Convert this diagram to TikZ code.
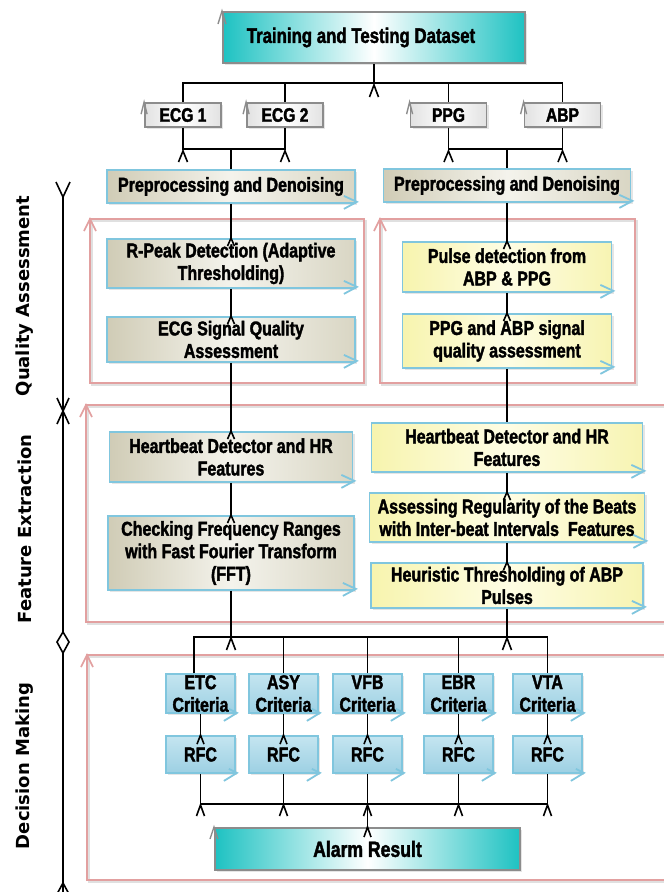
\documentclass[tikz,border=0pt]{standalone}
\usepackage{fontspec}
\newfontfamily\boxfont{Liberation Sans}[FakeStretch=0.8,FakeBold=1.8]
\newfontfamily\labfont{DejaVu Sans}
\usetikzlibrary{calc,shadows}
\definecolor{tealc}{HTML}{1EC2C2}
\definecolor{greyb}{HTML}{8C8C8C}
\definecolor{bborder}{HTML}{80C6DE}
\definecolor{beigeL}{HTML}{D0CCB6}
\definecolor{beigeM}{HTML}{F4F3EC}
\definecolor{beigeR}{HTML}{D9D6C4}
\definecolor{yelL}{HTML}{F7F4AE}
\definecolor{yelM}{HTML}{FEFDE4}
\definecolor{yelR}{HTML}{F7F4B2}
\definecolor{critT}{HTML}{C4E5F0}
\definecolor{critB}{HTML}{9DD0E3}
\definecolor{framered}{HTML}{E2A0A0}
\definecolor{greyL}{HTML}{E2E2E2}
\newcommand\chv[4]{\draw[#1] ($(#2)+(-#3,#4)$) -- (#2) -- ($(#2)+(#3,#4)$);}
\newcommand\bmk[1]{\draw[bmark] ($(#1.south east)+(-12,-8)$) -- ($(#1.south east)+(1,-2)$) -- ($(#1.south east)+(-12,5)$);}
\newcommand\bmks[1]{\draw[bmark] ($(#1.south east)+(-7,-5)$) -- ($(#1.south east)+(1,-1)$) -- ($(#1.south east)+(-12,7)$);}
\begin{document}
\begin{tikzpicture}[x=1pt,y=-1pt,
  conn/.style={line width=1.6pt,draw=black},
  bmark/.style={line width=1.8pt,draw=bborder},
  redc/.style={line width=1.6pt,draw=framered},
  greyc/.style={line width=1.4pt,draw=greyb},
  frame/.style={line width=2pt,draw=framered},
  fshadow/.style={line width=2pt,draw=black!12},
  mybox/.style={rectangle,inner sep=0pt,align=center,line width=1.8pt,draw=bborder,
    font=\boxfont\bfseries\fontsize{20pt}{22.5pt}\selectfont,
    drop shadow={shadow xshift=2pt,shadow yshift=-2pt,opacity=0.2}},
  beigebox/.style={mybox,left color=beigeL,right color=beigeR,middle color=beigeM},
  yelbox/.style={mybox,left color=yelL,right color=yelR,middle color=yelM},
  critbox/.style={mybox,top color=critT,bottom color=critB,minimum width=69pt},
  tealbox/.style={mybox,draw=greyb,line width=2pt,left color=tealc,right color=tealc,middle color=white},
  greybox/.style={mybox,draw=greyb,left color=greyL,right color=greyL,middle color=white,
    minimum width=76pt,minimum height=24pt,font=\boxfont\bfseries\fontsize{19.5pt}{21pt}\selectfont},
  lab/.style={rotate=90,font=\labfont\bfseries\fontsize{18pt}{20pt}\selectfont,inner sep=0pt}
]
\path[use as bounding box] (0,0) rectangle (664,892);
\clip (0,0) rectangle (664,892);
\fill[white] (0,0) rectangle (664,892);

% red frames
\draw[fshadow] (92,221) rectangle (366,385);
\draw[frame] (90,219) rectangle (364,383);
\draw[fshadow] (382,221) rectangle (637,385);
\draw[frame] (380,219) rectangle (635,383);
\draw[fshadow] (88,407) rectangle (702,624);
\draw[frame] (86,405) rectangle (700,622);
\draw[fshadow] (89,657) rectangle (702,882);
\draw[frame] (87,655) rectangle (700,880);
\coordinate (fqa1) at (90,219);
\coordinate (fqa2) at (380,219);
\coordinate (ffe) at (86,405);
\coordinate (fdm) at (87,655);
\chv{redc}{fqa1}{6}{12}
\chv{redc}{fqa2}{6}{12}
\chv{redc}{ffe}{6}{12}
\chv{redc}{fdm}{6}{12}

% side labels and spine
\node[lab] (qa) at (25,296) {Quality Assessment};
\node[lab] (fe) at (25,529) {Feature Extraction};
\node[lab] (dm) at (25,766) {Decision Making};
\coordinate (spTop) at (63,197);
\coordinate (spBot) at (63,892);
\draw[conn] (spTop) -- (spBot);
\draw[conn] (56,182) -- (spTop) -- (70,182);
\draw[conn] (57,398) -- (69,424);
\draw[conn] (69,398) -- (57,424);
\draw[conn,fill=white] (63,632) -- (69,642) -- (63,653) -- (57,642) -- cycle;
\coordinate (spEnd) at (63,883);
\chv{conn}{spEnd}{6}{11}

% nodes
\node[tealbox,minimum width=302pt,minimum height=51pt,font=\boxfont\bfseries\fontsize{21pt}{22pt}\selectfont] (title) at (374,37.5) {\hspace*{-26pt}\raisebox{-3pt}{Training and Testing Dataset}};
\node[greybox] (ecg1) at (183,115) {ECG 1};
\node[greybox] (ecg2) at (285,115) {ECG 2};
\node[greybox] (ppg) at (448.5,115) {PPG};
\node[greybox] (abp) at (562.5,115) {ABP};

\node[beigebox,minimum width=248pt,minimum height=33pt] (preL) at (231,186.5) {Preprocessing and Denoising};
\node[beigebox,minimum width=247pt,minimum height=33pt] (preR) at (507,185.5) {Preprocessing and Denoising};
\node[beigebox,minimum width=248pt,minimum height=49pt] (rpeak) at (231,263.5) {R-Peak Detection (Adaptive\\Thresholding)};
\node[beigebox,minimum width=248pt,minimum height=45pt] (ecgsqa) at (231,339.5) {ECG Signal Quality\\Assessment};
\node[yelbox,minimum width=209pt,minimum height=50pt] (pulse) at (507,267) {Pulse detection from\\ABP \& PPG};
\node[yelbox,minimum width=209pt,minimum height=54pt] (ppgabp) at (507,341) {PPG and ABP signal\\quality assessment};

\node[beigebox,minimum width=243pt,minimum height=50pt] (hbl) at (231,457) {Heartbeat Detector and HR\\Features};
\node[beigebox,minimum width=246pt,minimum height=74pt] (fft) at (231,553) {Checking Frequency Ranges\\with Fast Fourier Transform\\(FFT)};
\node[yelbox,minimum width=271pt,minimum height=49pt] (hbr) at (507,447.5) {Heartbeat Detector and HR\\Features};
\node[yelbox,minimum width=275pt,minimum height=49pt] (asr) at (507,517.5) {Assessing Regularity of the Beats\\with Inter-beat Intervals\ \ Features};
\node[yelbox,minimum width=272pt,minimum height=45pt] (heu) at (507,585.5) {Heuristic Thresholding of ABP\\Pulses};

\node[critbox,minimum height=39pt] (etc) at (200.5,693.5) {ETC\\Criteria};
\node[critbox,minimum height=39pt] (asy) at (283.5,693.5) {ASY\\Criteria};
\node[critbox,minimum height=39pt] (vfb) at (367.5,693.5) {VFB\\Criteria};
\node[critbox,minimum height=39pt] (ebr) at (458.5,693.5) {EBR\\Criteria};
\node[critbox,minimum height=39pt] (vta) at (547.5,693.5) {VTA\\Criteria};
\node[critbox,minimum height=37pt] (rfc1) at (200.5,754.5) {RFC};
\node[critbox,minimum height=37pt] (rfc2) at (283.5,754.5) {RFC};
\node[critbox,minimum height=37pt] (rfc3) at (367.5,754.5) {RFC};
\node[critbox,minimum height=37pt] (rfc4) at (458.5,754.5) {RFC};
\node[critbox,minimum height=37pt] (rfc5) at (547.5,754.5) {RFC};
\node[tealbox,minimum width=305pt,minimum height=42pt,font=\boxfont\bfseries\fontsize{22pt}{23pt}\selectfont] (alarm) at (367.5,849) {Alarm Result};

% buses
\coordinate (busA) at (0,83);
\coordinate (busB) at (0,149);
\coordinate (busC) at (0,637);
\coordinate (busD) at (0,804);
\coordinate (etcIn) at (194,637);
\draw[conn] (title.south) -- (title.south |- busA);
\draw[conn] (ecg1.north) -- (ecg1.north |- busA) -- (abp.north |- busA) -- (abp.north);
\draw[conn] (ecg2.north) -- (ecg2.north |- busA);
\draw[conn] (ppg.north) -- (ppg.north |- busA);
\draw[conn] (ecg1.south) -- (ecg1.south |- busB) -- (ecg2.south |- busB) -- (ecg2.south);
\draw[conn] (preL.north) -- (preL.north |- busB);
\draw[conn] (ppg.south) -- (ppg.south |- busB) -- (abp.south |- busB) -- (abp.south);
\draw[conn] (preR.north) -- (preR.north |- busB);
% left column
\draw[conn] (preL.south) -- (rpeak.north);
\draw[conn] (rpeak.south) -- (ecgsqa.north);
\draw[conn] (ecgsqa.south) -- (hbl.north);
\draw[conn] (hbl.south) -- (fft.north);
\draw[conn] (fft.south) -- (fft.south |- busC);
% right column
\draw[conn] (preR.south) -- (pulse.north);
\draw[conn] (pulse.south) -- (ppgabp.north);
\draw[conn] (ppgabp.south) -- (hbr.north);
\draw[conn] (hbr.south) -- (asr.north);
\draw[conn] (asr.south) -- (heu.north);
\draw[conn] (heu.south) -- (heu.south |- busC);
% decision bus
\draw[conn] (etc.north -| etcIn) -- (etcIn) -- (vta.north |- busC) -- (vta.north);
\draw[conn] (asy.north) -- (asy.north |- busC);
\draw[conn] (vfb.north) -- (vfb.north |- busC);
\draw[conn] (ebr.north) -- (ebr.north |- busC);
\draw[conn] (etc.south) -- (rfc1.north);
\draw[conn] (asy.south) -- (rfc2.north);
\draw[conn] (vfb.south) -- (rfc3.north);
\draw[conn] (ebr.south) -- (rfc4.north);
\draw[conn] (vta.south) -- (rfc5.north);
\draw[conn] (rfc1.south) -- (rfc1.south |- busD) -- (rfc5.south |- busD) -- (rfc5.south);
\draw[conn] (rfc2.south) -- (rfc2.south |- busD);
\draw[conn] (rfc3.south) -- (rfc3.south |- busD);
\draw[conn] (rfc4.south) -- (rfc4.south |- busD);
\draw[conn] (alarm.north) -- (alarm.north |- busD);

% chevrons
\coordinate (cA) at (374,85);
\chv{conn}{cA}{4.5}{12}
\coordinate (cB1) at (183,151);
\coordinate (cB2) at (285,151);
\coordinate (cB3) at (448.5,151);
\coordinate (cB4) at (562.5,151);
\chv{conn}{cB1}{4.5}{11}
\chv{conn}{cB2}{4.5}{11}
\chv{conn}{cB3}{4.5}{11}
\chv{conn}{cB4}{4.5}{11}
\chv{conn}{rpeak.north}{3.5}{8}
\chv{conn}{ecgsqa.north}{3.5}{8}
\chv{conn}{hbl.north}{3.5}{8}
\chv{conn}{fft.north}{3.5}{8}
\chv{conn}{pulse.north}{3.5}{8}
\chv{conn}{ppgabp.north}{3.5}{8}
\chv{conn}{asr.north}{3.5}{8}
\chv{conn}{heu.north}{3.5}{8}
\coordinate (cC1) at (231,638);
\coordinate (cC2) at (507,638);
\chv{conn}{cC1}{4.5}{12}
\chv{conn}{cC2}{4.5}{12}
\chv{conn}{rfc1.north}{3.5}{9}
\chv{conn}{rfc2.north}{3.5}{9}
\chv{conn}{rfc3.north}{3.5}{9}
\chv{conn}{rfc4.north}{3.5}{9}
\chv{conn}{rfc5.north}{3.5}{9}
\coordinate (cD1) at (200.5,805);
\coordinate (cD2) at (283.5,805);
\coordinate (cD3) at (367.5,805);
\coordinate (cD4) at (458.5,805);
\coordinate (cD5) at (547.5,805);
\chv{conn}{cD1}{4}{11}
\chv{conn}{cD2}{4}{11}
\chv{conn}{cD3}{4}{11}
\chv{conn}{cD4}{4}{11}
\chv{conn}{cD5}{4}{11}
\chv{conn}{alarm.north}{3.5}{10}
% grey marks
\chv{greyc}{title.north west}{4}{13}
\chv{greyc}{ecg1.north west}{3}{12}
\chv{greyc}{ecg2.north west}{3}{12}
\chv{greyc}{ppg.north west}{3}{12}
\chv{greyc}{abp.north west}{3}{12}
\chv{greyc}{alarm.north west}{4}{12}
% blue marks
\bmk{preL}\bmk{preR}\bmk{rpeak}\bmk{ecgsqa}\bmk{pulse}\bmk{ppgabp}
\bmk{hbl}\bmk{fft}\bmk{hbr}\bmk{asr}\bmk{heu}
\bmks{etc}\bmks{asy}\bmks{vfb}\bmks{ebr}\bmks{vta}
\bmks{rfc1}\bmks{rfc2}\bmks{rfc3}\bmks{rfc4}\bmks{rfc5}
\end{tikzpicture}
\end{document}
